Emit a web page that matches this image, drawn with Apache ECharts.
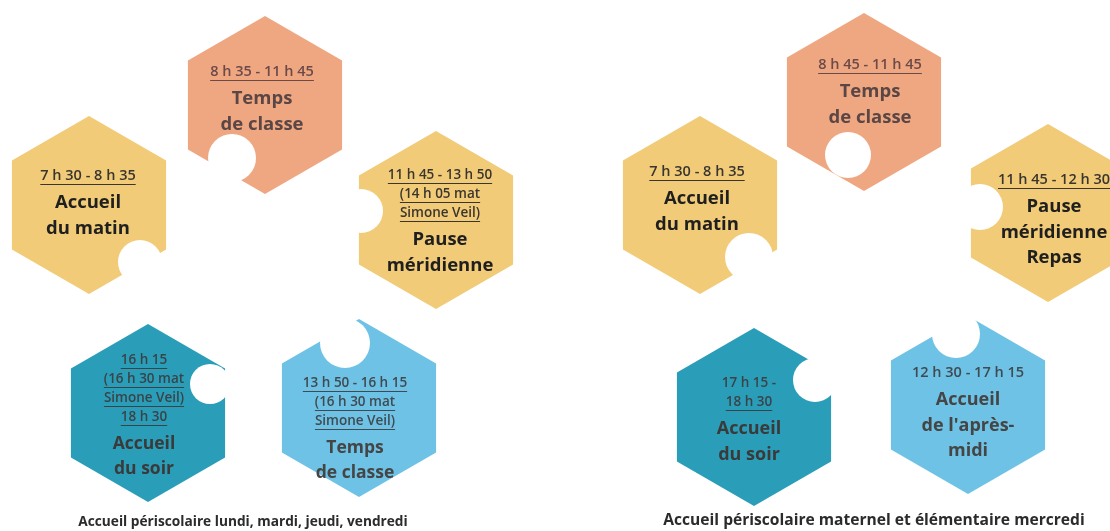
<!DOCTYPE html>
<html>
<head>
<meta charset="utf-8">
<script src="https://cdn.jsdelivr.net/npm/echarts@6/dist/echarts.min.js"></script>
<style>
html,body{margin:0;padding:0;background:#fff;}
#chart{width:1110px;height:531px;}
</style>
</head>
<body>
<div id="chart"></div>
<script>
// ---- data ----
const nodeX = [265, 89, 436, 148, 359, 864, 700, 1048, 754, 968];
const nodeY = [105, 205, 220, 413, 408, 102, 205, 213, 417, 405];
const nodeKind = ['orange','yellow','yellow','teal','blue','orange','yellow','yellow','teal','blue'];
const timeLines = [
  ["8 h 35 - 11 h 45"],
  ["7 h 30 - 8 h 35"],
  ["11 h 45 - 13 h 50", "(14 h 05 mat", "Simone Veil)"],
  ["16 h 15", "(16 h 30 mat", "Simone Veil)", "18 h 30"],
  ["13 h 50 - 16 h 15", "(16 h 30 mat", "Simone Veil)"],
  ["8 h 45 - 11 h 45"],
  ["7 h 30 - 8 h 35"],
  ["11 h 45 - 12 h 30"],
  ["17 h 15 -", "18 h 30"],
  ["12 h 30 - 17 h 15"]
];
const timeUnderline = [
  [1],[1],[1,1,1],[1,1,1,1],[1,1,1],[1],[1],[1],[0,1],[0]
];
const titleLines = [
  ["Temps", "de classe"],
  ["Accueil", "du matin"],
  ["Pause", "méridienne"],
  ["Accueil", "du soir"],
  ["Temps", "de classe"],
  ["Temps", "de classe"],
  ["Accueil", "du matin"],
  ["Pause", "méridienne", "Repas"],
  ["Accueil", "du soir"],
  ["Accueil", "de l'après-", "midi"]
];
const captions = [
  "Accueil périscolaire lundi, mardi, jeudi, vendredi",
  "Accueil périscolaire maternel et élémentaire mercredi"
];

// ---- layout / style ----
const hexR = 89;
const notch = [ // dx, dy, r relative to hexagon center
  [-33, 53, 24], [51, 57, 22], [-75, -9, 22], [62, -29, 20], [-14, -65, 25],
  [-16, 53, 23], [49, 52, 24], [-68, -6, 23], [61, -37, 22], [-12, -71, 24]
];
const textDx = [-3, -1, 4, -4, -4, 6, -3, 6, -5, 0];
const textDy = [-33, -29, -45, -53, -25, -37, -33, -33, -34, -32];
const titleSize = [18.5, 18.5, 18.5, 17.5, 17.5, 18.5, 18.5, 18.5, 18, 18];
const colors = {orange:'#EFA781', yellow:'#F1CB77', teal:'#2A9DB9', blue:'#6DC2E5'};
const timeColor = {orange:'#6b4a48', yellow:'#3a3530', teal:'#3a4448', blue:'#404a50'};
const titleColor = {orange:'#5a4644', yellow:'#1f1f1f', teal:'#3a3a3a', blue:'#454545'};
const FONT = '"Open Sans", "DejaVu Sans", sans-serif';

const mctx = document.createElement('canvas').getContext('2d');
function textW(t, font){ mctx.font = font; return mctx.measureText(t).width; }

const seriesData = nodeX.map((x, i) => [x, nodeY[i], i]);

function renderItem(params, api){
  const i = api.value(2);
  const c = api.coord([api.value(0), api.value(1)]);
  const R = Math.abs(api.size([hexR, hexR])[0]);
  const kind = nodeKind[i];
  const pts = [];
  for (let k = 0; k < 6; k++){
    const a = (-90 + 60 * k) * Math.PI / 180;
    pts.push([c[0] + R * Math.cos(a), c[1] + R * Math.sin(a)]);
  }
  const children = [
    {type:'polygon', shape:{points:pts}, style:{fill:colors[kind]}},
    {type:'circle', shape:{cx:c[0] + notch[i][0], cy:c[1] + notch[i][1], r:notch[i][2]}, style:{fill:'#ffffff'}}
  ];
  const tx = c[0] + textDx[i];
  let y = c[1] + textDy[i];
  const multi = timeLines[i].length > 1;
  const tFont = '600 ' + (multi ? 13.5 : 14.5) + 'px ' + FONT;
  timeLines[i].forEach((t, j) => {
    children.push({type:'text', style:{text:t, x:tx, y:y, font:tFont, fill:timeColor[kind], align:'center', verticalAlign:'middle'}});
    if (timeUnderline[i][j]){
      const w = textW(t, tFont);
      children.push({type:'line', shape:{x1:tx - w/2, y1:y + 8.5, x2:tx + w/2, y2:y + 8.5}, style:{stroke:timeColor[kind], lineWidth:1}});
    }
    if (j < timeLines[i].length - 1) y += 19;
  });
  y += 27;
  const hFont = 'bold ' + titleSize[i] + 'px ' + FONT;
  titleLines[i].forEach((t, j) => {
    children.push({type:'text', style:{text:t, x:tx, y:y, font:hFont, fill:titleColor[kind], align:'center', verticalAlign:'middle'}});
    y += 25.5;
  });
  return {type:'group', children};
}

const chart = echarts.init(document.getElementById('chart'));
chart.setOption({
  animation:false,
  backgroundColor:'#ffffff',
  grid:{left:0, right:0, top:0, bottom:0},
  xAxis:{type:'value', min:0, max:1110, show:false},
  yAxis:{type:'value', min:0, max:531, inverse:true, show:false},
  graphic:[
    {type:'text', x:243, y:522, style:{text:captions[0], font:'bold 13.7px ' + FONT, fill:'#2b2b2b', align:'center', verticalAlign:'middle'}},
    {type:'text', x:874, y:521, style:{text:captions[1], font:'bold 15.6px ' + FONT, fill:'#2b2b2b', align:'center', verticalAlign:'middle'}}
  ],
  series:[{
    type:'custom',
    coordinateSystem:'cartesian2d',
    renderItem: renderItem,
    data: seriesData,
    clip:false
  }]
});
</script>
</body>
</html>
